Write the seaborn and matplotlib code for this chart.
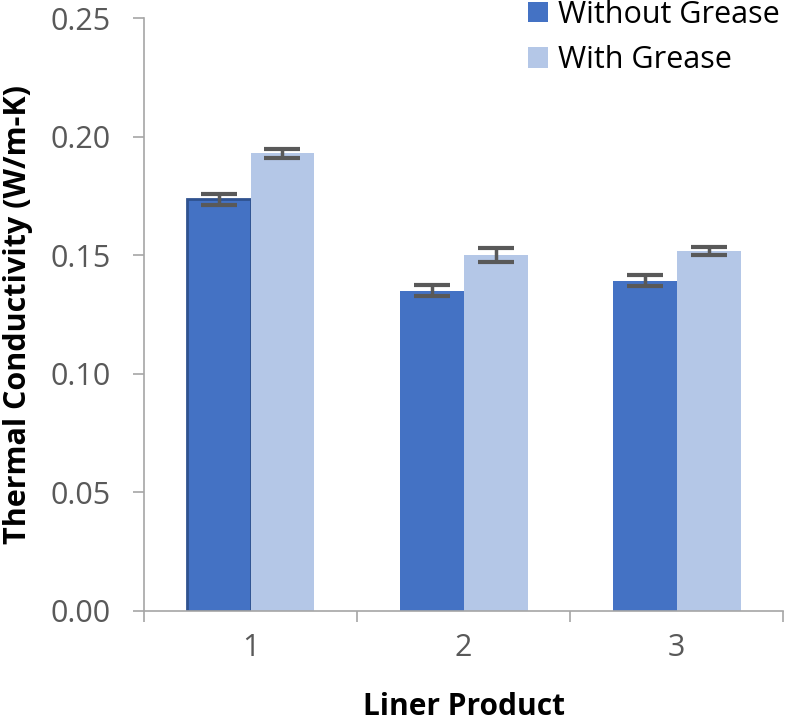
import matplotlib
matplotlib.use("Agg")
import matplotlib.pyplot as plt
import seaborn as sns
import pandas as pd

products = ["1", "2", "3"]
series = ["Without Grease", "With Grease"]
without_vals = [0.1735, 0.1350, 0.1393]
with_vals = [0.1930, 0.1501, 0.1518]
without_err = [0.0023, 0.0023, 0.0022]
with_err = [0.0019, 0.0030, 0.0017]
yticks = [0.00, 0.05, 0.10, 0.15, 0.20, 0.25]
colors = ["#4472C4", "#B4C7E7"]

df = pd.DataFrame({
    "Liner Product": products * 2,
    "Value": without_vals + with_vals,
    "Series": [series[0]] * 3 + [series[1]] * 3,
})

sns.set_style("white")
plt.rcParams["font.family"] = ["Open Sans", "DejaVu Sans"]

fig = plt.figure(figsize=(8, 7.2), dpi=100)
ax = fig.add_axes([0.18, 0.1514, 0.799, 0.8236])

sns.barplot(data=df, x="Liner Product", y="Value", hue="Series",
            palette=colors, width=0.6, gap=0, errorbar=None, ax=ax,
            saturation=1, linewidth=0, legend=True)

errs = {series[0]: without_err, series[1]: with_err}
for container, s in zip(ax.containers, series):
    xs = [p.get_x() + p.get_width() / 2 for p in container.patches]
    hs = [p.get_height() for p in container.patches]
    ax.errorbar(xs, hs, yerr=errs[s], fmt="none", ecolor="#595959",
                elinewidth=2.5, capsize=13, capthick=3, zorder=5)

p0 = ax.containers[0].patches[0]
p0.set_edgecolor("#2F528F")
p0.set_linewidth(2)

ax.set_ylim(0, 0.25)
ax.set_xlim(-0.5, 2.5)
ax.set_yticks(yticks)
ax.set_yticklabels([f"{v:.2f}" for v in yticks])
ax.tick_params(axis="y", colors="#A6A6A6", labelcolor="#595959", labelsize=22,
               length=8, width=1.2, direction="out", pad=16, left=True)
ax.tick_params(axis="x", labelcolor="#595959", labelsize=22, length=0, pad=16)
ax.set_xticks([-0.5, 0.5, 1.5, 2.5], minor=True)
ax.tick_params(axis="x", which="minor", length=8, color="#A6A6A6", width=1.2,
               direction="out", bottom=True)
for sp in ["top", "right"]:
    ax.spines[sp].set_visible(False)
for sp in ["left", "bottom"]:
    ax.spines[sp].set_color("#A6A6A6")
    ax.spines[sp].set_linewidth(1.2)

ax.set_xlabel("Liner Product", fontsize=21.5, fontweight="bold", color="black")
ax.xaxis.set_label_coords(0.5, -0.137)
ax.set_ylabel("Thermal Conductivity (W/m-K)", fontsize=22, fontweight="bold", color="black")
ax.yaxis.set_label_coords((33 - 144) / 639, 0.5)

leg = ax.legend(loc="upper left", bbox_to_anchor=(528 / 800, 1.0),
                bbox_transform=fig.transFigure, frameon=False, borderpad=0,
                borderaxespad=0, fontsize=22, handlelength=0.65, handleheight=0.65,
                handletextpad=0.33, labelspacing=0.5, labelcolor="black")
for h in leg.legend_handles:
    h.set_edgecolor("none")

fig.savefig("out.png", dpi=100)
